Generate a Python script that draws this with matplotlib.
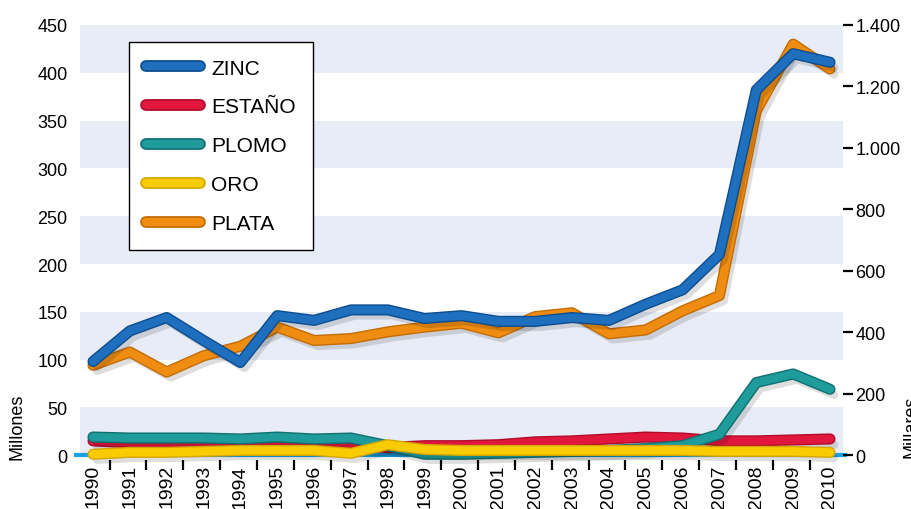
import matplotlib
matplotlib.use("Agg")
import matplotlib.pyplot as plt
import matplotlib.patheffects as pe
from matplotlib.lines import Line2D

years = [str(y) for y in range(1990, 2011)]
zinc = [98, 130, 144, 120, 97, 146, 141, 152, 152, 143, 146, 140, 140, 144, 141, 158, 173, 210, 382, 420, 411]
estano = [15, 13, 12, 12, 12, 12, 12, 11, 8, 10, 10, 11, 14, 15, 17, 19, 18, 15, 15, 16, 17]
plomo = [19, 18, 18, 18, 17, 19, 17, 18, 10, 1, 1, 2, 3, 4, 5, 7, 10, 22, 76, 85, 69]
oro = [1, 3, 3, 4, 5, 5, 5, 2, 11, 6, 5, 5, 5, 5, 5, 5, 5, 4, 4, 4, 3]
plata = [94, 108, 87, 104, 114, 134, 120, 122, 129, 134, 138, 128, 145, 149, 127, 131, 151, 167, 360, 430, 404]

left_ticks = [0, 50, 100, 150, 200, 250, 300, 350, 400, 450]
right_ticks = [0, 200, 400, 600, 800, 1000, 1200, 1400]
right_labels = ["0", "200", "400", "600", "800", "1.000", "1.200", "1.400"]

# name, values, main colour, edge colour
series = [
    ("ESTAÑO", estano, "#e2173e", "#b10c2c"),
    ("PLOMO", plomo, "#1f9b9b", "#117070"),
    ("ORO", oro, "#f8cc00", "#d6a600"),
    ("PLATA", plata, "#ee8d12", "#c46c05"),
    ("ZINC", zinc, "#1f6fbf", "#0d4d8f"),
]
legend_order = ["ZINC", "ESTAÑO", "PLOMO", "ORO", "PLATA"]

plt.rcParams["font.family"] = ["Liberation Sans", "DejaVu Sans"]

W, H = 912, 510
fig = plt.figure(figsize=(W / 100, H / 100), dpi=100)
ax = fig.add_axes([80 / W, (H - 461) / H, (843 - 80) / W, (461 - 26) / H])

x = list(range(len(years)))
ax.set_xlim(-0.353, 20.353)
ax.set_ylim(-5, 450)

for lo in range(0, 450, 100):
    ax.axhspan(lo, lo + 50, color="#e8ecf6", lw=0, zorder=0)

# cyan base line
ax.plot([-0.47, 20.4], [0, 0], color="#1ba1e2", lw=3, clip_on=False, zorder=1)

handles = {}
for name, vals, col, dark in series:
    effects = [pe.SimpleLineShadow(offset=(3, -4), shadow_color="k", alpha=0.13, rho=0.3),
               pe.Stroke(linewidth=8, foreground=dark), pe.Normal()]
    ax.plot(x, vals, color=col, lw=6, solid_capstyle="round", solid_joinstyle="round",
            path_effects=effects, clip_on=False, zorder=3)
    handles[name] = Line2D([], [], color=col, lw=6, solid_capstyle="round",
                           path_effects=[pe.Stroke(linewidth=8.5, foreground=dark), pe.Normal()])

for s in ax.spines.values():
    s.set_visible(False)

ax.set_yticks(left_ticks)
ax.tick_params(axis="y", length=0, pad=9, labelsize=13)

ax.set_xticks(x)
ax.set_xticklabels(years, rotation=90, fontsize=14)
ax.set_xticks([i + 0.45 for i in range(20)], minor=True)
ax.tick_params(axis="x", which="major", length=0, pad=3)
ax.tick_params(axis="x", which="minor", length=7, width=1.6, color="k", direction="out")

ax2 = ax.twinx()
ax2.set_ylim(-5 * 1400 / 450, 1400)
ax2.set_yticks(right_ticks)
ax2.set_yticklabels(right_labels, fontsize=13)
ax2.tick_params(axis="y", length=7, width=1.6, pad=2, direction="out")
for s in ax2.spines.values():
    s.set_visible(False)

leg = ax.legend([handles[n] for n in legend_order], legend_order,
                loc="upper left", bbox_to_anchor=(129 / W, 1 - 43 / H),
                bbox_transform=fig.transFigure, borderaxespad=0,
                fontsize=15, handlelength=2.6, handletextpad=0.55,
                labelspacing=0.95, borderpad=0.8, fancybox=False,
                framealpha=1, edgecolor="k")
leg.get_frame().set_linewidth(1.0)
leg.set_zorder(5)

fig.text(17 / W, 1 - 427 / H, "Millones", rotation=90, ha="center", va="center", fontsize=13)
fig.text(911 / W, 1 - 427 / H, "Millares", rotation=90, ha="center", va="center", fontsize=13)

fig.savefig("out.png", dpi=100)
